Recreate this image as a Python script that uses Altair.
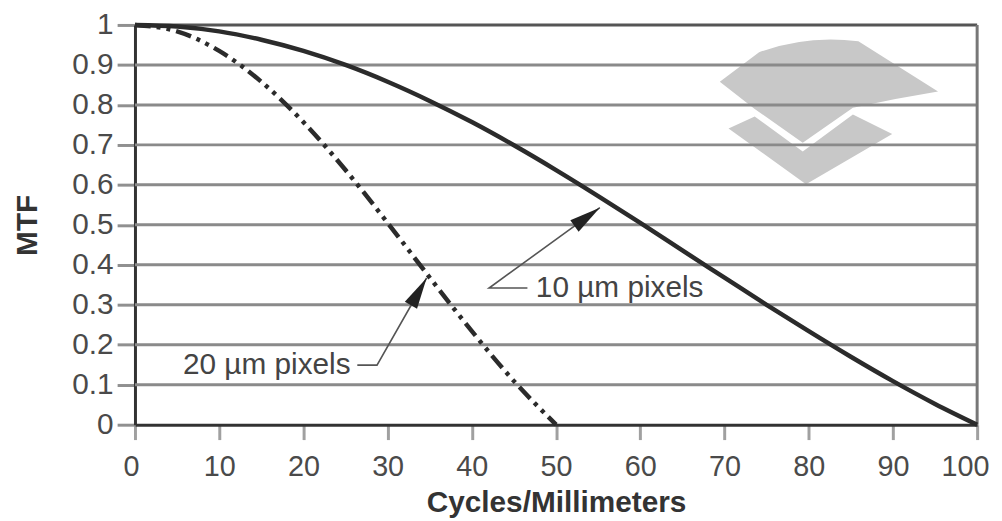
import altair as alt
import pandas as pd

# ---- data ----
freq_10um = [0, 5, 10, 15, 20, 25, 30, 35, 40, 45, 50, 55, 60, 65, 70, 75, 80, 85, 90, 95, 100]
mtf_10um = [1.0, 0.996, 0.984, 0.963, 0.935, 0.900, 0.858, 0.810, 0.757, 0.699, 0.637,
            0.572, 0.505, 0.436, 0.368, 0.300, 0.234, 0.170, 0.109, 0.052, 0.0]
freq_20um = [0, 5, 10, 15, 20, 25, 30, 35, 40, 45, 50]
mtf_20um = [1.0, 0.984, 0.935, 0.858, 0.757, 0.637, 0.505, 0.368, 0.234, 0.109, 0.0]

x_ticks = [0, 10, 20, 30, 40, 50, 60, 70, 80, 90, 100]
y_ticks = [0, 0.1, 0.2, 0.3, 0.4, 0.5, 0.6, 0.7, 0.8, 0.9, 1]
grid_y = [0.1, 0.2, 0.3, 0.4, 0.5, 0.6, 0.7, 0.8, 0.9]

label_10um = "10 µm pixels"
label_20um = "20 µm pixels"
# leader lines (label end -> elbow -> arrow tip), in data units
leader_10_x = [46.6, 42.05, 55.2]
leader_10_y = [0.342, 0.342, 0.543]
leader_20_x = [26.4, 28.74, 34.63]
leader_20_y = [0.149, 0.149, 0.367]
text_10_x, text_10_y = 47.6, 0.342
text_20_x, text_20_y = 25.6, 0.149
logo_x, logo_y = 82.4, 0.779

FONT = "Liberation Sans"
W, H = 849, 403

xs = alt.Scale(domain=[0, 100], nice=False, zero=False)
ys = alt.Scale(domain=[0, 1], nice=False, zero=False)

x_axis = alt.Axis(values=x_ticks, title="Cycles/Millimeters", grid=False,
                  domainColor="#333333", domainWidth=3,
                  tickColor="#a0a0a0", tickWidth=3, tickSize=15,
                  labelPadding=13, labelFont=FONT, labelFontSize=29, labelColor="#4a4a4a",
                  labelFlush=True, labelFlushOffset=12, labelOverlap=False,
                  titleFont=FONT, titleFontSize=30, titleFontWeight="bold", titleColor="#333333",
                  titleX=W / 2, titleY=88, titleBaseline="alphabetic")
y_axis = alt.Axis(values=y_ticks, title="MTF", grid=False, format="~g",
                  domainColor="#333333", domainWidth=3,
                  tickColor="#909090", tickWidth=3, tickSize=18,
                  labelPadding=4, labelFont=FONT, labelFontSize=30, labelColor="#4a4a4a",
                  labelOverlap=False,
                  titleFont=FONT, titleFontSize=30, titleFontWeight="bold", titleColor="#333333",
                  titleAngle=270, titleX=-108, titleY=H / 2, titleBaseline="middle", titleAlign="center")


def X(field):
    return alt.X(field, type="quantitative", scale=xs, axis=x_axis)


def Y(field):
    return alt.Y(field, type="quantitative", scale=ys, axis=y_axis)


df10 = pd.DataFrame({"x": freq_10um, "y": mtf_10um})
df20 = pd.DataFrame({"x": freq_20um, "y": mtf_20um})
grid_df = pd.DataFrame({"y": grid_y})
top_df = pd.DataFrame({"y": [1.0]})
right_df = pd.DataFrame({"x": [100.0]})

lead_df = pd.DataFrame({
    "x": leader_10_x + leader_20_x,
    "y": leader_10_y + leader_20_y,
    "k": ["a"] * 3 + ["b"] * 3,
    "o": [0, 1, 2] * 2,
})

logo_upper = ("M-1,-0.29 L-0.64,-0.56 Q-0.2,-0.72 0.27,-0.66 L1,-0.2 L0.61,-0.13 "
              "L0.22,-0.05 L-0.24,0.27 L-0.68,-0.04 Z")
logo_lower = "M-0.92,0.14 L-0.68,0.03 L-0.24,0.35 L0.22,0.01 L0.58,0.19 L-0.21,0.65 Z"
logo_df = pd.DataFrame({"x": [logo_x], "y": [logo_y]})
logo_up = alt.Chart(logo_df).mark_point(shape=logo_upper, filled=True, color="#c8c8c8", opacity=1,
                                        size=48400, strokeWidth=0).encode(x=X("x"), y=Y("y"))
logo_lo = alt.Chart(logo_df).mark_point(shape=logo_lower, filled=True, color="#c8c8c8", opacity=1,
                                        size=48400, strokeWidth=0).encode(x=X("x"), y=Y("y"))

grid = alt.Chart(grid_df).mark_rule(color="#8a8a8a", strokeWidth=3).encode(y=Y("y"))
top_line = alt.Chart(top_df).mark_rule(color="#555555", strokeWidth=3).encode(y=Y("y"))
right_line = alt.Chart(right_df).mark_rule(color="#777777", strokeWidth=3).encode(x=X("x"))

line10 = alt.Chart(df10).mark_line(color="#2b2b2b", strokeWidth=4.5, interpolate="monotone").encode(
    x=X("x"), y=Y("y"))
line20 = alt.Chart(df20).mark_line(color="#2b2b2b", strokeWidth=4.5, interpolate="monotone",
                                   strokeDash=[16, 6, 4, 6, 4, 6]).encode(x=X("x"), y=Y("y"))

leaders = alt.Chart(lead_df).mark_line(color="#555555", strokeWidth=1.6).encode(
    x=X("x"), y=Y("y"), detail="k:N", order="o:Q")

ARROW = "M0,0 L0.45,2 L-0.45,2 Z"
tip10 = pd.DataFrame({"x": [leader_10_x[-1]], "y": [leader_10_y[-1]]})
tip20 = pd.DataFrame({"x": [leader_20_x[-1]], "y": [leader_20_y[-1]]})
head10 = alt.Chart(tip10).mark_point(shape=ARROW, filled=True, color="#222222", opacity=1,
                                     size=1000, angle=54, strokeWidth=0).encode(x=X("x"), y=Y("y"))
head20 = alt.Chart(tip20).mark_point(shape=ARROW, filled=True, color="#222222", opacity=1,
                                     size=1000, angle=30, strokeWidth=0).encode(x=X("x"), y=Y("y"))

t10 = alt.Chart(pd.DataFrame({"x": [text_10_x], "y": [text_10_y], "t": [label_10um]})).mark_text(
    align="left", baseline="middle", font=FONT, fontSize=30, color="#444444").encode(
    x=X("x"), y=Y("y"), text="t:N")
t20 = alt.Chart(pd.DataFrame({"x": [text_20_x], "y": [text_20_y], "t": [label_20um]})).mark_text(
    align="right", baseline="middle", font=FONT, fontSize=30, color="#444444").encode(
    x=X("x"), y=Y("y"), text="t:N")

chart = alt.layer(
    logo_up, logo_lo, grid, top_line, right_line, line10, line20, leaders, head10, head20, t10, t20
).properties(
    width=W, height=H,
    autosize=alt.AutoSizeParams(type="none"),
    padding={"left": 128, "top": 15, "right": 17, "bottom": 96},
).configure_view(stroke=None).configure(background="white")

chart.save("out.html", embed_options={"renderer": "svg", "actions": False})
